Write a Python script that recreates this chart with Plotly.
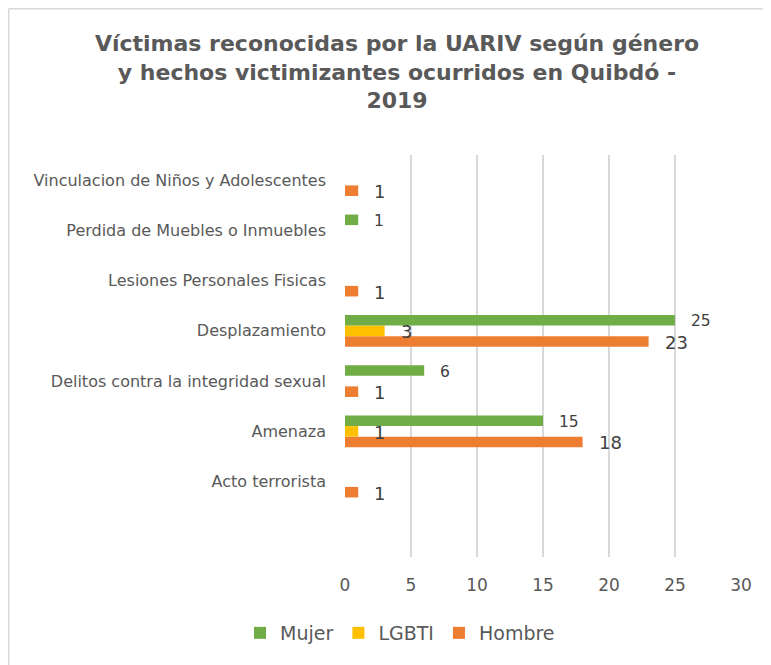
import plotly.graph_objects as go

categories = ["Acto terrorista", "Amenaza", "Delitos contra la integridad sexual",
              "Desplazamiento", "Lesiones Personales Fisicas",
              "Perdida de Muebles o Inmuebles", "Vinculacion de Niños y Adolescentes"]
mujer = [None, 15, 6, 25, None, 1, None]
lgbti = [None, 1, None, 3, None, None, None]
hombre = [1, 18, 1, 23, 1, None, 1]
x_ticks = [0, 5, 10, 15, 20, 25, 30]

FONT = "DejaVu Sans"
GRAY = "#595959"
COL_M, COL_L, COL_H = "#70AD47", "#FFC000", "#ED7D31"

# the page body has an 8px margin; figure coords = page coords - 8
OFF = 8
W, H = 771 - 2 * OFF, 665 - OFF
L = 345 - OFF
R = W - (741 - OFF)
T = 155 - OFF
B = H - (557 - OFF)
PW, PH = W - L - R, H - T - B

def px_x(page_px):
    return (page_px - OFF - L) / PW

def px_y(page_py):
    return (H - B - (page_py - OFF)) / PH

def cont_y(page_py):
    return 1 - (page_py - OFF) / H

fig = go.Figure()
series = [("Hombre", hombre, COL_H, 18), ("LGBTI", lgbti, COL_L, 18), ("Mujer", mujer, COL_M, 15.5)]
for name, vals, col, _ in series:
    fig.add_trace(go.Bar(y=categories, x=vals, name=name, orientation="h",
                         marker=dict(color=col, line=dict(width=0))))

bargap = 0.37
bw = (1 - bargap) / 3
annotations = []
for k, (name, vals, col, fs) in enumerate(series):
    off = (k - 1) * bw
    for i, v in enumerate(vals):
        if v is None:
            continue
        annotations.append(dict(x=v, y=i + off, xref="x", yref="y", text=str(v),
                                showarrow=False, xanchor="left", yanchor="middle",
                                xshift=14, yshift=-1,
                                font=dict(family=FONT, size=fs, color="#404040")))

fig.update_layout(
    width=W, height=H,
    margin=dict(l=L, r=R, t=T, b=B, pad=0, autoexpand=False),
    paper_bgcolor="white", plot_bgcolor="white",
    barmode="group", bargap=bargap, bargroupgap=0,
    title=dict(text="<b>Víctimas reconocidas por la UARIV según género<br>y hechos victimizantes ocurridos en Quibdó -<br>2019</b>",
               x=px_x(397), xref="paper", xanchor="center",
               y=cont_y(51), yref="container", yanchor="middle",
               font=dict(family=FONT, size=22, color=GRAY)),
    xaxis=dict(range=[0, 30], tickvals=x_ticks, showgrid=True, gridcolor="#D9D9D9",
               gridwidth=1.5, zeroline=False, showline=False, automargin=False,
               tickfont=dict(family=FONT, size=17, color=GRAY),
               ticks="", ticklabelstandoff=16, fixedrange=True),
    yaxis=dict(type="category", categoryorder="array", categoryarray=categories,
               range=[-1.5, 6.5], showgrid=False, zeroline=False, showline=False,
               automargin=False, ticks="", ticklabelstandoff=18,
               tickfont=dict(family=FONT, size=16, color=GRAY)),
    legend=dict(orientation="h", traceorder="reversed", x=px_x(400), xanchor="center",
                y=cont_y(633), yref="container", yanchor="middle",
                font=dict(family=FONT, size=19, color=GRAY)),
    showlegend=True,
    annotations=annotations,
    shapes=[dict(type="line", xref="paper", yref="paper", x0=px_x(8.75), x1=px_x(800),
                 y0=px_y(8.75), y1=px_y(8.75), line=dict(color="#D9D9D9", width=1.5)),
            dict(type="line", xref="paper", yref="paper", x0=px_x(8.75), x1=px_x(8.75),
                 y0=px_y(8.75), y1=px_y(700), line=dict(color="#D9D9D9", width=1.5))],
)

fig.write_html("out.html")
